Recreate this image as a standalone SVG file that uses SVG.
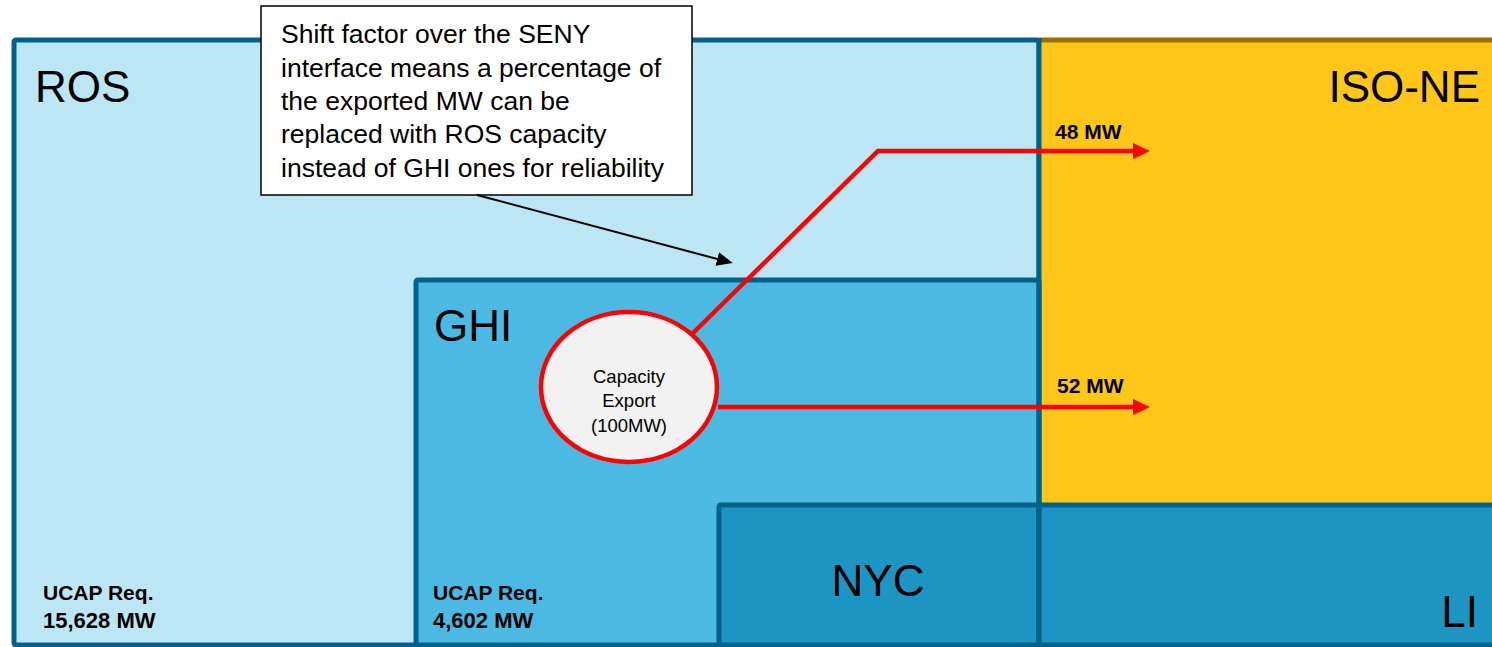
<svg xmlns="http://www.w3.org/2000/svg" width="1492" height="647" viewBox="0 0 1492 647">
<style>
.zone{stroke:#00618B;stroke-width:5}
.big{font-family:"Liberation Sans",Arial,sans-serif;font-size:44px;fill:#000}
.lbl{font-family:"Liberation Sans",Arial,sans-serif;font-size:21px;font-weight:bold;fill:#000}
.num{font-size:22px}
.note{font-family:"Liberation Sans",Arial,sans-serif;font-size:26.5px;fill:#000}
.circ{font-family:"Liberation Sans",Arial,sans-serif;font-size:18.5px;fill:#000;text-anchor:middle}
.red{fill:none;stroke:#FF0000;stroke-width:4.5}
</style>
<defs>
<marker id="redHead" markerUnits="userSpaceOnUse" markerWidth="18" markerHeight="18" refX="7" refY="8" orient="auto">
<path d="M0,0 L17,8 L0,16 z" fill="#FF0000"/>
</marker>
<marker id="blackHead" markerUnits="userSpaceOnUse" markerWidth="18" markerHeight="16" refX="6" refY="7" orient="auto">
<path d="M0,0 L16,7 L0,14 z" fill="#000"/>
</marker>
</defs>
<rect width="1492" height="647" fill="#FFFFFF"/>
<g id="ROS">
<rect class="zone" x="14" y="40" width="1025" height="605" rx="2" fill="#BDE6F4"/>
<text class="big" x="35" y="102">ROS</text>
<text class="lbl" x="43" y="600">UCAP Req.</text>
<text class="lbl num" x="43" y="628">15,628 MW</text>
</g>
<g id="ISO-NE">
<rect x="1039" y="40" width="460" height="465" fill="#FEC619"/>
<line x1="1039" y1="40" x2="1492" y2="40" stroke="#977000" stroke-width="5"/>
<text class="big" x="1480" y="102" text-anchor="end">ISO-NE</text>
</g>
<g id="GHI">
<rect class="zone" x="416" y="280" width="623" height="365" rx="2" fill="#4BB9E2"/>
<text class="big" x="434" y="341">GHI</text>
<text class="lbl" x="433" y="600">UCAP Req.</text>
<text class="lbl num" x="433" y="628">4,602 MW</text>
</g>
<g id="NYC">
<rect class="zone" x="719" y="505" width="320" height="140" rx="2" fill="#1D95C2"/>
<text class="big" x="878" y="596" text-anchor="middle">NYC</text>
</g>
<g id="LI">
<rect class="zone" x="1039" y="505" width="460" height="140" fill="#1D95C2"/>
<text class="big" x="1478" y="627" text-anchor="end">LI</text>
</g>
<line x1="1039" y1="38" x2="1039" y2="647" stroke="#00618B" stroke-width="5"/>
<g id="callout">
<rect x="261" y="6" width="431" height="189" fill="#FFFFFF" stroke="#000" stroke-width="1.5"/>
<text class="note" x="281" y="43">Shift factor over the SENY</text>
<text class="note" x="281" y="77">interface means a percentage of</text>
<text class="note" x="281" y="110">the exported MW can be</text>
<text class="note" x="281" y="143">replaced with ROS capacity</text>
<text class="note" x="281" y="177">instead of GHI ones for reliability</text>
</g>
<g id="connectors">
<line x1="477" y1="195" x2="723" y2="260.5" stroke="#000" stroke-width="2" marker-end="url(#blackHead)"/>
<path class="red" d="M693,333 L878,151 L1140,151" marker-end="url(#redHead)"/>
<path class="red" d="M718,407 L1140,407" marker-end="url(#redHead)"/>
</g>
<g id="export">
<ellipse cx="629" cy="387" rx="88" ry="75" fill="#F2F2F2" stroke="#FF0000" stroke-width="4.5"/>
<text class="circ" x="629" y="383">Capacity</text>
<text class="circ" x="629" y="407">Export</text>
<text class="circ" x="629" y="432">(100MW)</text>
</g>
<g id="flows">
<text class="lbl" x="1055" y="139">48 MW</text>
<text class="lbl" x="1057" y="393">52 MW</text>
</g>
</svg>
